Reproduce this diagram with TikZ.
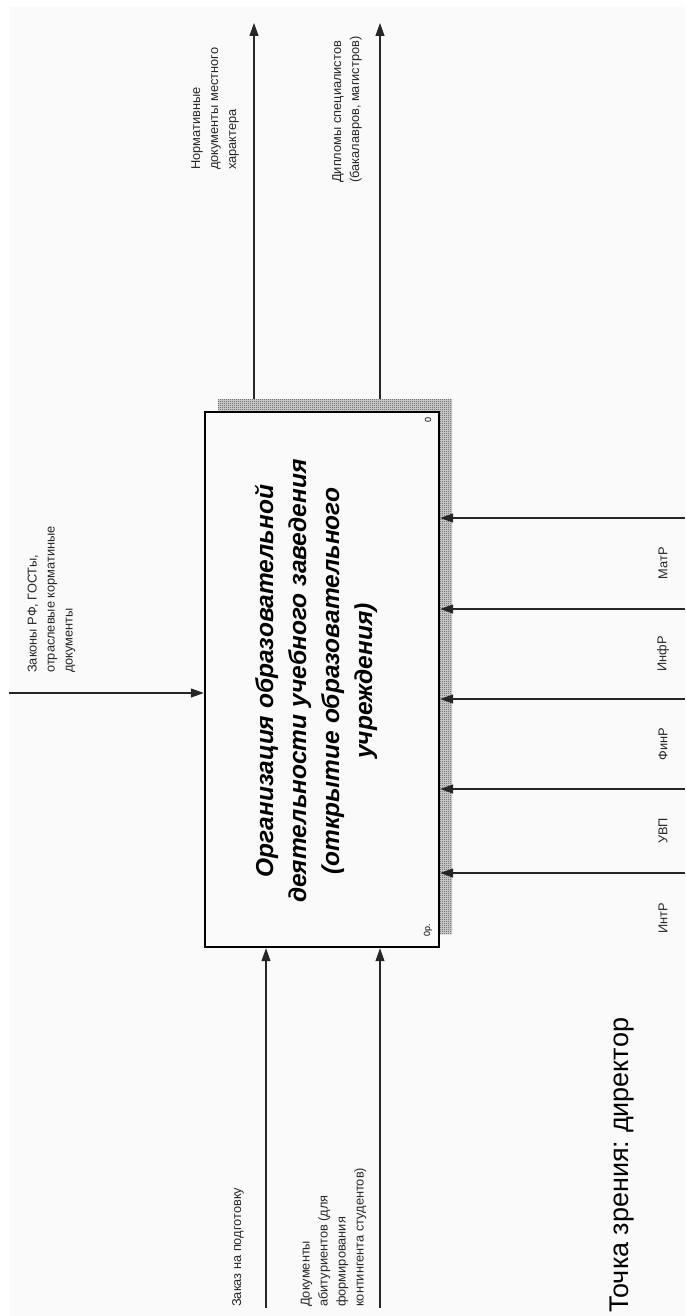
\documentclass[tikz,border=0pt]{standalone}
\usepackage{fontspec}
\setmainfont{Liberation Sans}
\usetikzlibrary{arrows.meta,patterns}
\definecolor{paper}{HTML}{FAFAFA}
\frenchspacing
% fine checkerboard used for the box shadow
\pgfdeclarepatternformonly{checker}{\pgfqpoint{0pt}{0pt}}{\pgfqpoint{2pt}{2pt}}{\pgfqpoint{2pt}{2pt}}{%
  \pgfpathrectangle{\pgfqpoint{0pt}{0pt}}{\pgfqpoint{1pt}{1pt}}%
  \pgfpathrectangle{\pgfqpoint{1pt}{1pt}}{\pgfqpoint{1pt}{1pt}}%
  \pgfusepath{fill}}
\begin{document}
\begin{tikzpicture}[x=1pt,y=-1pt,
  flow/.style={line width=1.1pt, draw=black!85, -{Triangle[length=13pt,width=9pt]}},
  lbl/.style={rotate=90, font=\fontsize{12.8}{18}\selectfont, align=left,
              inner sep=0pt, anchor=west, text=black!85},
  tiny/.style={rotate=90, font=\fontsize{9}{10}\selectfont, inner sep=0pt},
  funcbox/.style={draw, line width=2.4pt, fill=paper, minimum width=234pt,
                  minimum height=535pt, inner sep=0pt},
  shadow/.style={pattern=checker, pattern color=black!75}]
% sheet
\useasboundingbox (0,0) rectangle (685,1316);
\fill[white] (0,0) rectangle (685,1316);
\fill[paper] (9,7) rectangle (685,1316);

% free ends of the connectors
\coordinate (inL)  at (9,693);
\coordinate (out1) at (254,23);
\coordinate (out2) at (380,23);
\coordinate (in1)  at (266,1308);
\coordinate (in2)  at (380,1308);
\coordinate (c1) at (685,518);
\coordinate (c2) at (685,609);
\coordinate (c3) at (685,699);
\coordinate (c4) at (685,789);
\coordinate (c5) at (685,873);

% function box with its shadow
\coordinate (shA) at (218,399);
\coordinate (shB) at (452,934);
\node[funcbox] (box) at (322,679.5) {};
\draw[flow] (box.north -| out1) -- (out1);
\draw[flow] (box.north -| out2) -- (out2);
\fill[black!15] (shA) rectangle (shB);
\fill[shadow] (shA) rectangle (shB);
\node[funcbox] at (box.center) {};

\node[rotate=90, align=center, inner sep=0pt,
      font=\fontsize{24.5}{33}\selectfont\bfseries\itshape] (title) at (316,681)
  {Организация образовательной\\деятельности учебного заведения\\(открытие образовательного\\учреждения)};
\node[tiny] (num) at (428,420) {0};
\node[tiny] (ref) at (428,930) {0р.};

% input on the left side
\draw[flow] (inL) -- (inL -| box.west);
\node[lbl] (lawT) at (51.5,673) {Законы РФ, ГОСТы,\\отраслевые корматиные\\документы};

% outputs
\node[lbl] (normT) at (215,170) {Нормативные\\документы местного\\характера};
\node[lbl] (diplT) at (347,183) {Дипломы специалистов\\(бакалавров, магистров)};

% entries from below
\draw[flow] (in1) -- (in1 |- box.south);
\draw[flow] (in2) -- (in2 |- box.south);
\node[lbl] (orderT) at (238,1307) {Заказ на подготовку};
\node[lbl] (docsT) at (333.5,1307) {Документы\\абитуриентов (для\\формирования\\контингента студентов)};

% resources from the right
\foreach \c in {c1,c2,c3,c4,c5}
  \draw[flow] (\c) -- (\c -| box.east);
\node[lbl, anchor=center] (matT) at (663,563) {МатР};
\node[lbl, anchor=center] (infT) at (663,654) {ИнфР};
\node[lbl, anchor=center] (finT) at (663,744) {ФинР};
\node[lbl, anchor=center] (uvpT) at (663,831) {УВП};
\node[lbl, anchor=center] (intT) at (663,918) {ИнтР};

% viewpoint caption
\node[rotate=90, anchor=west, inner sep=0pt, font=\fontsize{27}{30}\selectfont]
  (view) at (622,1313) {Точка зрения: директор};
\end{tikzpicture}
\end{document}
